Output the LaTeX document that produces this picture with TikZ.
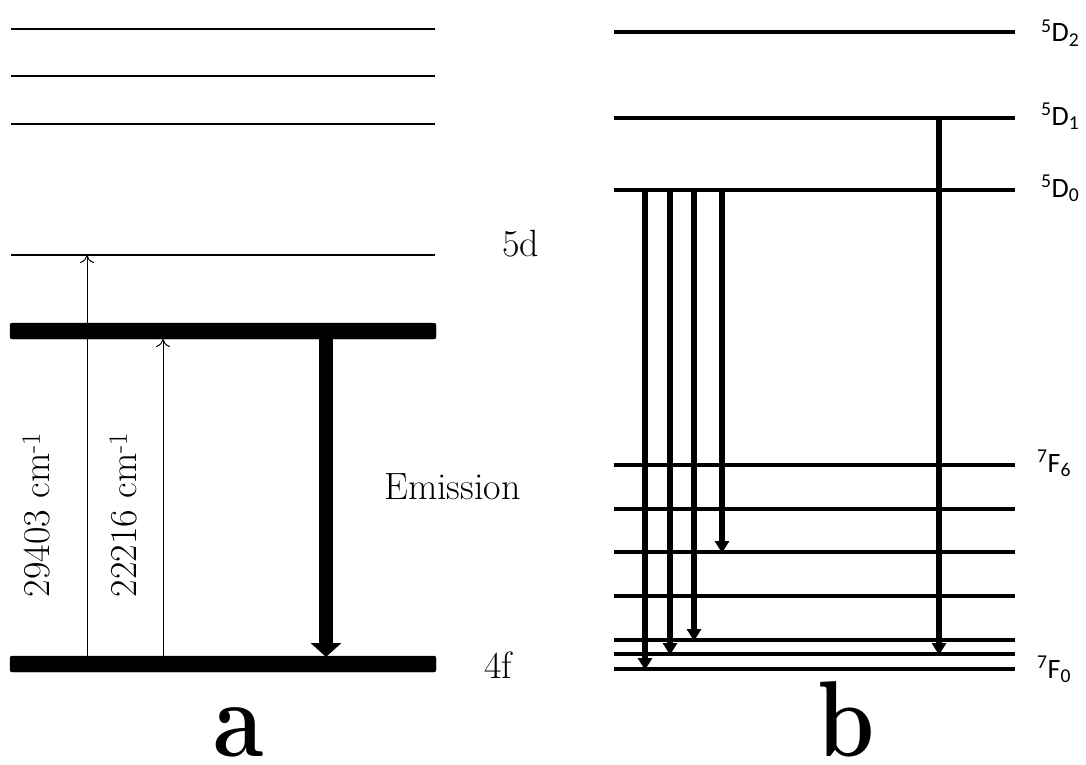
\documentclass[tikz,border=0pt]{standalone}
\usepackage{fontspec}
\newfontfamily\carlito{Carlito}
\usetikzlibrary{arrows.meta}
\tikzset{
  thinlevel/.style={line width=1.2pt},
  thicklevel/.style={fill=black, rounded corners=2pt},
  pumparrow/.style={line width=1pt, -{To[length=8pt,width=14pt]}},
  emisarrow/.style={line width=14pt, -{Triangle[length=14pt,width=30pt]}},
  blevel/.style={line width=4pt},
  barrow/.style={line width=6pt, -{Triangle[length=12pt,width=14pt]}},
  lbl/.style={inner sep=0pt, font=\fontsize{38}{42}\selectfont},
  slbl/.style={inner sep=0pt, font=\carlito\fontsize{28}{32}\selectfont, anchor=base west},
  big/.style={inner sep=0pt, anchor=base, xscale=0.85, font=\bfseries\fontsize{108}{116}\selectfont}
}
\begin{document}
\begin{tikzpicture}[x=1pt,y=-1pt]
\useasboundingbox (0,0) rectangle (1086,765);
% ---------- panel a ----------
\foreach \yy in {29,76,124,255} \draw[thinlevel] (11,\yy) -- (435,\yy);
\draw[thicklevel] (10,323) rectangle (436,339);
\draw[thicklevel] (10,656) rectangle (436,672);
\coordinate (p1s) at (87,656);  \coordinate (p1e) at (87,255);
\coordinate (p2s) at (163,656); \coordinate (p2e) at (163,339);
\coordinate (es) at (326,339);  \coordinate (ee) at (326,657);
\draw[pumparrow] (p1s) -- (p1e);
\draw[pumparrow] (p2s) -- (p2e);
\draw[emisarrow] (es) -- (ee);
\node[lbl, rotate=90] (l1) at (36,515) {29403 cm\textsuperscript{-1}};
\node[lbl, rotate=90] (l2) at (123,515) {22216 cm\textsuperscript{-1}};
\node[lbl, anchor=base west] (em) at (384,499) {Emission};
\node[lbl, anchor=base west] (d5) at (502,256) {5d};
\node[lbl, anchor=base west] (f4) at (484,678) {4f};
\node[big] (la) at (239,756) {a};
% ---------- panel b ----------
\foreach \yy in {32,118,190,465,509,552,596,640,654,669} \draw[blevel] (614,\yy) -- (1015,\yy);
\coordinate (a1s) at (645,190); \coordinate (a1e) at (645,670);
\coordinate (a2s) at (670,190); \coordinate (a2e) at (670,655);
\coordinate (a3s) at (694,190); \coordinate (a3e) at (694,641);
\coordinate (a4s) at (722,190); \coordinate (a4e) at (722,553);
\coordinate (a5s) at (939,118); \coordinate (a5e) at (939,655);
\foreach \i in {1,...,5} \draw[barrow] (a\i s) -- (a\i e);
\node[slbl] (t1) at (1041,42) {\textsuperscript{5}D\textsubscript{2}};
\node[slbl] (t2) at (1041,125) {\textsuperscript{5}D\textsubscript{1}};
\node[slbl] (t3) at (1041,197) {\textsuperscript{5}D\textsubscript{0}};
\node[slbl] (t4) at (1037,472) {\textsuperscript{7}F\textsubscript{6}};
\node[slbl] (t5) at (1037,678) {\textsuperscript{7}F\textsubscript{0}};
\node[big] (lb) at (846,756) {b};
\end{tikzpicture}
\end{document}
